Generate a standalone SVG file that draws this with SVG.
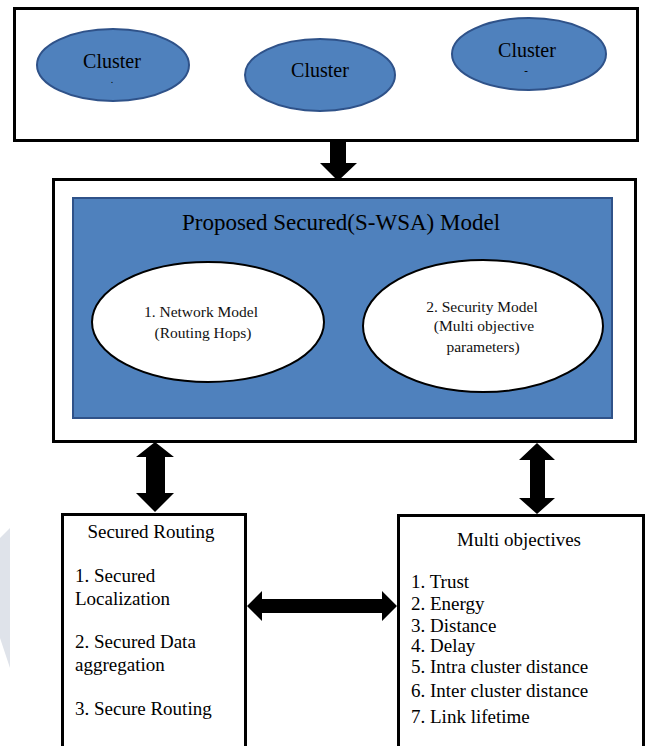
<svg xmlns="http://www.w3.org/2000/svg" width="648" height="746" viewBox="0 0 648 746">
<style>
.box{fill:#fff;stroke:#000;stroke-width:3}
.cl{fill:#4f81bd;stroke:#2f5289;stroke-width:2}
.wh{fill:#fff;stroke:#000;stroke-width:2}
.t{font-family:"Liberation Serif","Times New Roman",serif;fill:#000}
.c20{font-size:20px;text-anchor:middle}
.e{font-size:15.5px;text-anchor:middle;fill:#111}
.l{font-size:19px}
.arr{fill:#000}
</style>
<rect width="648" height="746" fill="#fff"/>
<polygon points="0,538 10,528 10,668 0,638" fill="#dfe3ea"/>
<g id="clusters-box">
<rect class="box" x="14.5" y="8.5" width="623" height="132"/>
</g>
<g id="cluster1">
<ellipse class="cl" cx="113" cy="65" rx="76" ry="36"/>
<text class="t c20" x="112" y="68">Cluster</text>
<text class="t" x="112" y="83" font-size="10" text-anchor="middle">.</text>
</g>
<g id="cluster2">
<ellipse class="cl" cx="320" cy="75" rx="75" ry="36"/>
<text class="t c20" x="320" y="77">Cluster</text>
</g>
<g id="cluster3">
<ellipse class="cl" cx="529" cy="54" rx="77" ry="36"/>
<text class="t c20" x="527" y="57">Cluster</text>
<text class="t" x="526" y="74" font-size="11" text-anchor="middle" font-weight="bold">-</text>
</g>
<g id="model-box">
<rect class="box" x="53.5" y="179.5" width="582" height="262"/>
<rect x="73" y="198" width="539" height="220" fill="#4f81bd" stroke="#2f5289" stroke-width="2"/>
<text class="t" x="341" y="230" font-size="23" text-anchor="middle" fill="#111">Proposed Secured(S-WSA) Model</text>
</g>
<g id="network-model">
<ellipse class="wh" cx="208" cy="322" rx="116" ry="60"/>
<text class="t e" x="201" y="317">1. Network Model</text>
<text class="t e" x="203" y="338">(Routing Hops)</text>
</g>
<g id="security-model">
<ellipse class="wh" cx="483" cy="326" rx="120" ry="66"/>
<text class="t e" x="482" y="312">2. Security Model</text>
<text class="t e" x="484" y="331">(Multi objective</text>
<text class="t e" x="483" y="352">parameters)</text>
</g>
<g id="secured-routing">
<rect class="box" x="62.5" y="514.5" width="183" height="250"/>
<text class="t l" x="151" y="538" text-anchor="middle">Secured Routing</text>
<text class="t l" x="75" y="582">1. Secured</text>
<text class="t l" x="75" y="605">Localization</text>
<text class="t l" x="75" y="648">2. Secured Data</text>
<text class="t l" x="75" y="671">aggregation</text>
<text class="t l" x="75" y="715">3. Secure Routing</text>
</g>
<g id="multi-objectives">
<rect class="box" x="398.5" y="515.5" width="245" height="250"/>
<text class="t l" x="519" y="546" text-anchor="middle">Multi objectives</text>
<text class="t l" x="411" y="588">1. Trust</text>
<text class="t l" x="411" y="610">2. Energy</text>
<text class="t l" x="411" y="632">3. Distance</text>
<text class="t l" x="411" y="652">4. Delay</text>
<text class="t l" x="411" y="673">5. Intra cluster distance</text>
<text class="t l" x="411" y="697">6. Inter cluster distance</text>
<text class="t l" x="411" y="723">7. Link lifetime</text>
</g>
<g id="connectors">
<polygon class="arr" points="330,141 346,141 346,163 357,163 338,181 320,163 330,163"/>
<polygon class="arr" points="155,442 174,457 165,457 165,493 174,493 155,512 136,493 146,493 146,457 136,457"/>
<polygon class="arr" points="537,443 555,460 545,460 545,498 555,498 537,514 519,498 530,498 530,460 519,460"/>
<polygon class="arr" points="247,606 262,591 262,599 382,599 382,591 397,606 382,621 382,613 262,613 262,621"/>
</g>
</svg>
